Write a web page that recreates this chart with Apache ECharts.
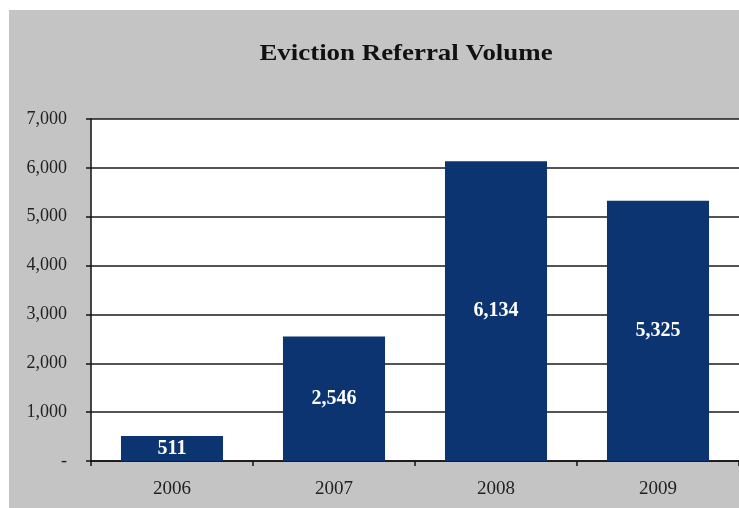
<!DOCTYPE html>
<html>
<head>
<meta charset="utf-8">
<script src="https://cdn.jsdelivr.net/npm/echarts@6/dist/echarts.min.js"></script>
<style>
  html, body { margin: 0; padding: 0; background: #ffffff; }
  #chart { width: 739px; height: 508px; }
</style>
</head>
<body>
<div id="chart"></div>
<script>
// Eviction referrals per year
const chartTitle = 'Eviction Referral Volume';
const years = ['2006', '2007', '2008', '2009'];
const referrals = [511, 2546, 6134, 5325];
const yTicks = [0, 1000, 2000, 3000, 4000, 5000, 6000, 7000];

const serif = '"Liberation Serif", "DejaVu Serif", serif';

function fmt(v) {
  if (v === 0) return '-';
  return v.toLocaleString('en-US');
}

const chart = echarts.init(document.getElementById('chart'));
chart.setOption({
  backgroundColor: '#ffffff',
  animation: false,
  graphic: [
    {
      // grey chart-area panel
      type: 'rect',
      z: -100,
      silent: true,
      shape: { x: 9, y: 10, width: 739, height: 498 },
      style: { fill: '#c4c4c4' }
    },
    {
      // wide bold heading
      type: 'text',
      x: 406,
      y: 54,
      scaleX: 1.12,
      silent: true,
      style: {
        text: chartTitle,
        textAlign: 'center',
        textVerticalAlign: 'middle',
        fontFamily: serif,
        fontWeight: 'bold',
        fontSize: 24,
        fill: '#111111'
      }
    }
  ],
  grid: {
    show: true,
    left: 91,
    top: 119,
    width: 654,
    bottom: 47,
    backgroundColor: '#ffffff',
    borderWidth: 0,
    containLabel: false
  },
  xAxis: {
    type: 'category',
    data: years,
    axisLine: { show: true, lineStyle: { color: '#111111', width: 1.5 } },
    axisTick: { show: true, length: 5, lineStyle: { color: '#111111', width: 1.5 } },
    axisLabel: { fontFamily: serif, fontSize: 19, color: '#222222', margin: 19 }
  },
  yAxis: {
    type: 'value',
    min: yTicks[0],
    max: yTicks[yTicks.length - 1],
    interval: 1000,
    axisLine: { show: true, lineStyle: { color: '#111111', width: 1.5 } },
    axisTick: { show: true, length: 5, lineStyle: { color: '#111111', width: 1.5 } },
    splitLine: { show: true, lineStyle: { color: '#1a1a1a', width: 1.5 } },
    axisLabel: {
      fontFamily: serif, fontSize: 18, color: '#222222', margin: 24,
      formatter: fmt
    }
  },
  series: [{
    type: 'bar',
    data: referrals,
    barWidth: '63%',
    itemStyle: { color: '#0b3470' },
    label: {
      show: true,
      position: 'inside',
      formatter: p => fmt(p.value),
      fontFamily: serif,
      fontWeight: 'bold',
      fontSize: 20,
      color: '#ffffff'
    }
  }]
});
</script>
</body>
</html>
